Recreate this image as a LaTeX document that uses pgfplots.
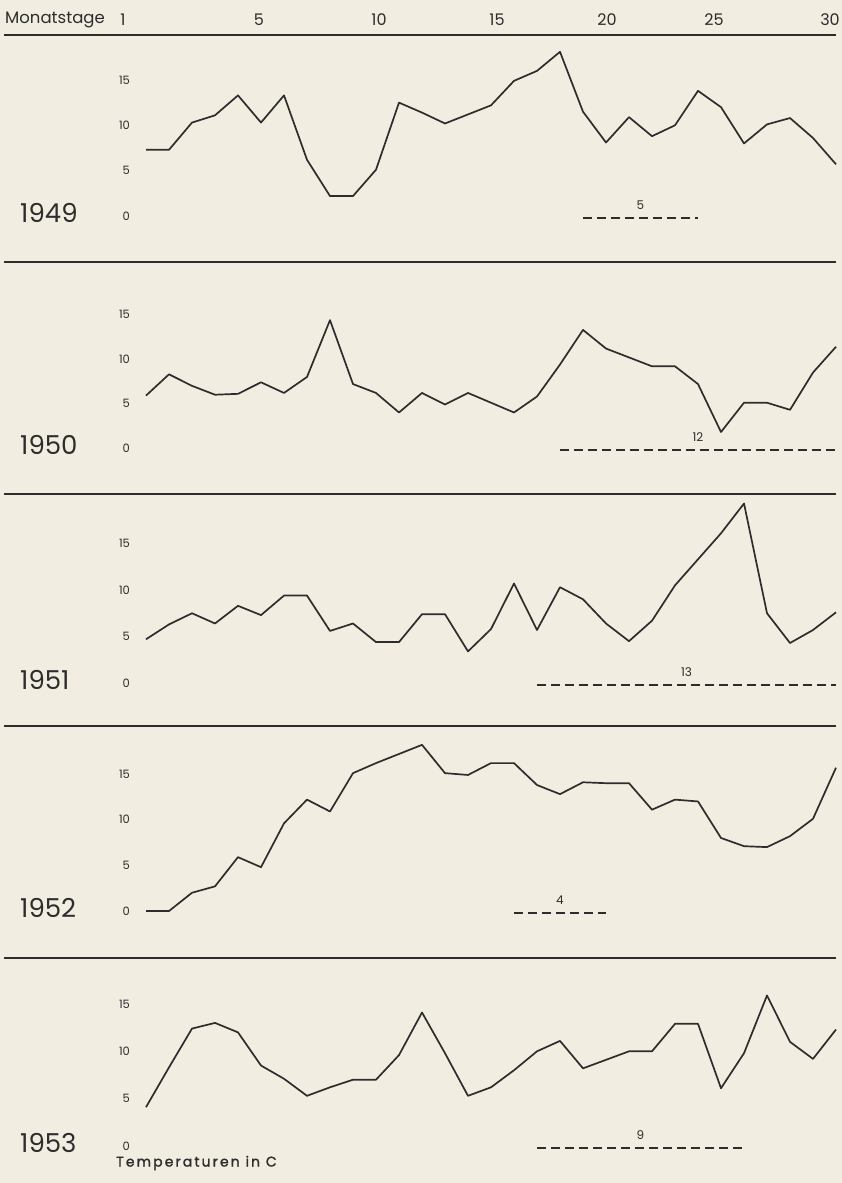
\documentclass[border=0pt]{standalone}
\usepackage{fontspec}
\setmainfont{Poppins}
\usepackage{pgfplots}
\usepackage{pgfplotstable}
\pgfplotsset{compat=1.18}
\definecolor{paper}{RGB}{242,237,225}
\definecolor{ink}{RGB}{45,45,45}

\pgfplotstableread{
day  a     b     c     d     e
1    7.3   5.9   4.7   0.0   4.1
2    7.3   8.3   6.3   0.0   8.3
3    10.3  7.0   7.5   2.0   12.4
4    11.1  6.0   6.4   2.7   13.0
5    13.3  6.1   8.3   5.9   12.0
6    10.3  7.4   7.3   4.8   8.5
7    13.3  6.2   9.4   9.6   7.1
8    6.2   8.0   9.4   12.2  5.3
9    2.2   14.4  5.6   10.9  6.2
10   2.2   7.2   6.4   15.1  7.0
11   5.1   6.2   4.4   16.2  7.0
12   12.5  4.0   4.4   17.2  9.6
13   11.4  6.2   7.4   18.2  14.1
14   10.2  4.9   7.4   15.1  9.8
15   11.2  6.2   3.4   14.9  5.3
16   12.2  5.1   5.8   16.2  6.2
17   14.9  4.0   10.7  16.2  8.0
18   16.0  5.8   5.7   13.8  10.0
19   18.1  9.4   10.3  12.8  11.1
20   11.5  13.3  9.0   14.1  8.2
21   8.1   11.2  6.4   14.0  9.1
22   10.9  10.2  4.5   14.0  10.0
23   8.8   9.2   6.7   11.1  10.0
24   10.0  9.2   10.5  12.2  12.9
25   13.8  7.2   13.3  12.0  12.9
26   12.0  1.8   16.1  8.0   6.1
27   8.0   5.1   19.3  7.1   9.8
28   10.1  5.1   7.5   7.0   15.9
29   10.8  4.3   4.3   8.2   11.0
30   8.6   8.5   5.7   10.1  9.2
31   5.7   11.4  7.6   15.7  12.3
}\datatable

\pgfplotsset{
  panel/.style={
    x=23pt, xmin=0.5, xmax=31.5, ymin=-3, ymax=20,
    anchor=south west,
    axis x line=none, axis y line*=left,
    y axis line style={draw=none},
    major tick length=0pt,
    ytick={0,5,10,15},
    /pgf/number format/assume math mode=true,
    yticklabel style={font=\fontsize{11.5}{11.5}\selectfont, text=ink, xshift=-1pt},
    clip=false,
  },
  curve/.style={ink, line width=1.7pt, line join=round, no marks},
  dashes/.style={ink, line width=2.2pt, dash pattern=on 9pt off 5pt, no marks},
}

\begin{document}
\begin{tikzpicture}
\useasboundingbox (0,0) rectangle (842pt,-1183pt);
\fill[paper] (0,0) rectangle (842pt,-1183pt);

% header
\node[anchor=west, font=\fontsize{16.5}{16.5}\selectfont, text=ink, inner sep=0pt] at (5pt,-20pt) {Monatstage};
\foreach \lab/\xx in {1/123, 5/259, 10/379, 15/497, 20/607, 25/714, 30/830}
  \node[font=\fontsize{16}{16}\selectfont, text=ink, inner sep=0pt] at (\xx pt,-20pt) {\lab};

% rules
\foreach \yy in {35, 262, 494, 726, 958}
  \draw[ink, line width=2.4pt] (4pt,-\yy pt) -- (836pt,-\yy pt);

% 1949
\begin{axis}[panel, y=9.07pt, at={(134.5pt,-243.21pt)}]
\addplot[curve] table[x=day, y=a]{\datatable};
\addplot[dashes] coordinates {(20,-0.25) (25,-0.25)};
\node[font=\fontsize{12}{12}\selectfont, text=ink] at (axis cs:22.5,1.2) {5};
\end{axis}

% 1950
\begin{axis}[panel, y=8.88pt, at={(134.5pt,-474.64pt)}]
\addplot[curve] table[x=day, y=b]{\datatable};
\addplot[dashes] coordinates {(19,-0.25) (31,-0.25)};
\node[font=\fontsize{12}{12}\selectfont, text=ink] at (axis cs:25,1.2) {12};
\end{axis}

% 1951
\begin{axis}[panel, y=9.3pt, at={(134.5pt,-710.9pt)}]
\addplot[curve] table[x=day, y=c]{\datatable};
\addplot[dashes] coordinates {(18,-0.25) (31,-0.25)};
\node[font=\fontsize{12}{12}\selectfont, text=ink] at (axis cs:24.5,1.2) {13};
\end{axis}

% 1952
\begin{axis}[panel, y=9.13pt, at={(134.5pt,-938.39pt)}]
\addplot[curve] table[x=day, y=d]{\datatable};
\addplot[dashes] coordinates {(17,-0.25) (21,-0.25)};
\node[font=\fontsize{12}{12}\selectfont, text=ink] at (axis cs:19,1.2) {4};
\end{axis}

% 1953
\begin{axis}[panel, y=9.47pt, at={(134.5pt,-1174.41pt)}]
\addplot[curve] table[x=day, y=e]{\datatable};
\addplot[dashes] coordinates {(18,-0.25) (27,-0.25)};
\node[font=\fontsize{12}{12}\selectfont, text=ink] at (axis cs:22.5,1.2) {9};
\end{axis}

% year labels
\foreach \yr/\yy in {1949/213, 1950/445, 1951/680, 1952/908, 1953/1143}
  \node[anchor=west, font=\fontsize{26}{26}\selectfont, text=ink, inner sep=0pt] at (20pt,-\yy pt) {\yr};

\node[anchor=west, font=\fontsize{14}{14}\selectfont\addfontfeatures{LetterSpace=15,FakeBold=1.5}, text=ink, inner sep=0pt] at (116pt,-1163pt) {Temperaturen in C};
\end{tikzpicture}
\end{document}
